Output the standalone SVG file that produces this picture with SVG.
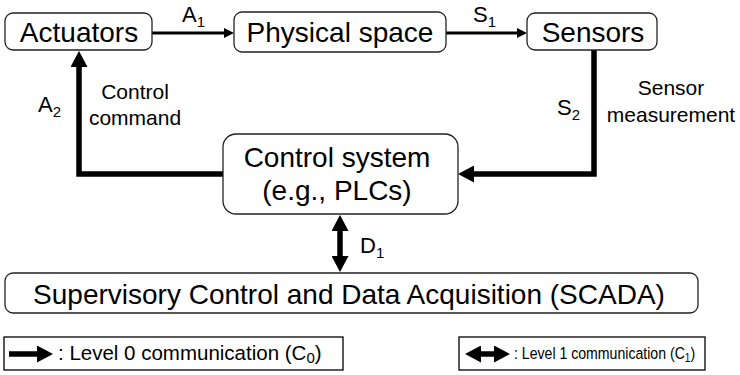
<svg xmlns="http://www.w3.org/2000/svg" width="740" height="375" viewBox="0 0 740 375">
<style>
text{font-family:"Liberation Sans",Arial,sans-serif;fill:#000}
.box{fill:#fff;stroke:#222;stroke-width:1.3}
.big{font-size:28px}
.lbl{font-size:22px}
.sub{font-size:15px}
.small{font-size:21px}
.thin{stroke:#000;stroke-width:3;fill:none}
.thick{stroke:#000;stroke-width:5.5;fill:none}
.leg{fill:#fff;stroke:#000;stroke-width:1.3}
</style>
<defs>
<marker id="ah" markerUnits="userSpaceOnUse" markerWidth="10" markerHeight="10" refX="0" refY="5" orient="auto"><path d="M0,0 L10,5 L0,10 z" fill="#000"/></marker>
<marker id="AH" markerUnits="userSpaceOnUse" markerWidth="17" markerHeight="17" refX="0" refY="8.5" orient="auto-start-reverse"><path d="M0,0 L16,8.5 L0,17 z" fill="#000"/></marker>
</defs>
<g id="connectors">
<line class="thin" x1="152" y1="33" x2="224" y2="33" marker-end="url(#ah)"/>
<line class="thin" x1="446" y1="33" x2="517" y2="33" marker-end="url(#ah)"/>
<path class="thick" d="M594,50 V174 H474" marker-end="url(#AH)"/>
<path class="thick" d="M223,174 H79 V67" marker-end="url(#AH)"/>
<line class="thick" x1="340" y1="231" x2="340" y2="256" marker-start="url(#AH)" marker-end="url(#AH)"/>
</g>
<g id="actuators"><rect class="box" x="5" y="13" width="147" height="37" rx="8"/><text class="big" x="79" y="42" text-anchor="middle">Actuators</text></g>
<g id="physical"><rect class="box" x="234" y="12" width="212" height="40" rx="8"/><text class="big" x="340" y="42" text-anchor="middle">Physical space</text></g>
<g id="sensors"><rect class="box" x="527" y="13" width="130" height="37" rx="8"/><text class="big" x="593" y="42" text-anchor="middle">Sensors</text></g>
<g id="control"><rect class="box" x="223" y="134" width="235" height="80" rx="13"/><text class="big" x="337" y="167" text-anchor="middle">Control system</text><text class="big" x="337" y="200" text-anchor="middle">(e.g., PLCs)</text></g>
<g id="scada"><rect class="box" x="5" y="273" width="693" height="40" rx="8"/><text class="big" x="349" y="304" text-anchor="middle">Supervisory Control and Data Acquisition (SCADA)</text></g>
<g id="labels">
<text class="lbl" x="182" y="22">A<tspan class="sub" dy="5">1</tspan></text>
<text class="lbl" x="473" y="22">S<tspan class="sub" dy="5">1</tspan></text>
<text class="lbl" x="38" y="112">A<tspan class="sub" dy="5">2</tspan></text>
<text class="lbl" x="557" y="115">S<tspan class="sub" dy="5">2</tspan></text>
<text class="lbl" x="360" y="253">D<tspan class="sub" dy="5">1</tspan></text>
<text class="small" x="135" y="99" text-anchor="middle">Control</text>
<text class="small" x="135" y="125" text-anchor="middle">command</text>
<text class="small" x="671" y="95" text-anchor="middle">Sensor</text>
<text class="small" x="671" y="122" text-anchor="middle">measurement</text>
</g>
<g id="legend0"><rect class="leg" x="4" y="337" width="339" height="33"/><line class="thick" x1="9" y1="354" x2="37" y2="354" marker-end="url(#AH)"/><text style="font-size:20.5px" x="58" y="360">: Level 0 communication (C<tspan class="sub" dy="3">0</tspan><tspan dy="-3">)</tspan></text></g>
<g id="legend1"><rect class="leg" x="459" y="337" width="246" height="33"/><line class="thick" x1="481" y1="354" x2="494" y2="354" marker-start="url(#AH)" marker-end="url(#AH)"/><text style="font-size:17px" transform="translate(514,359) scale(0.83,1)">: Level 1 communication (C<tspan style="font-size:12px" dy="3">1</tspan><tspan dy="-3">)</tspan></text></g>
</svg>
